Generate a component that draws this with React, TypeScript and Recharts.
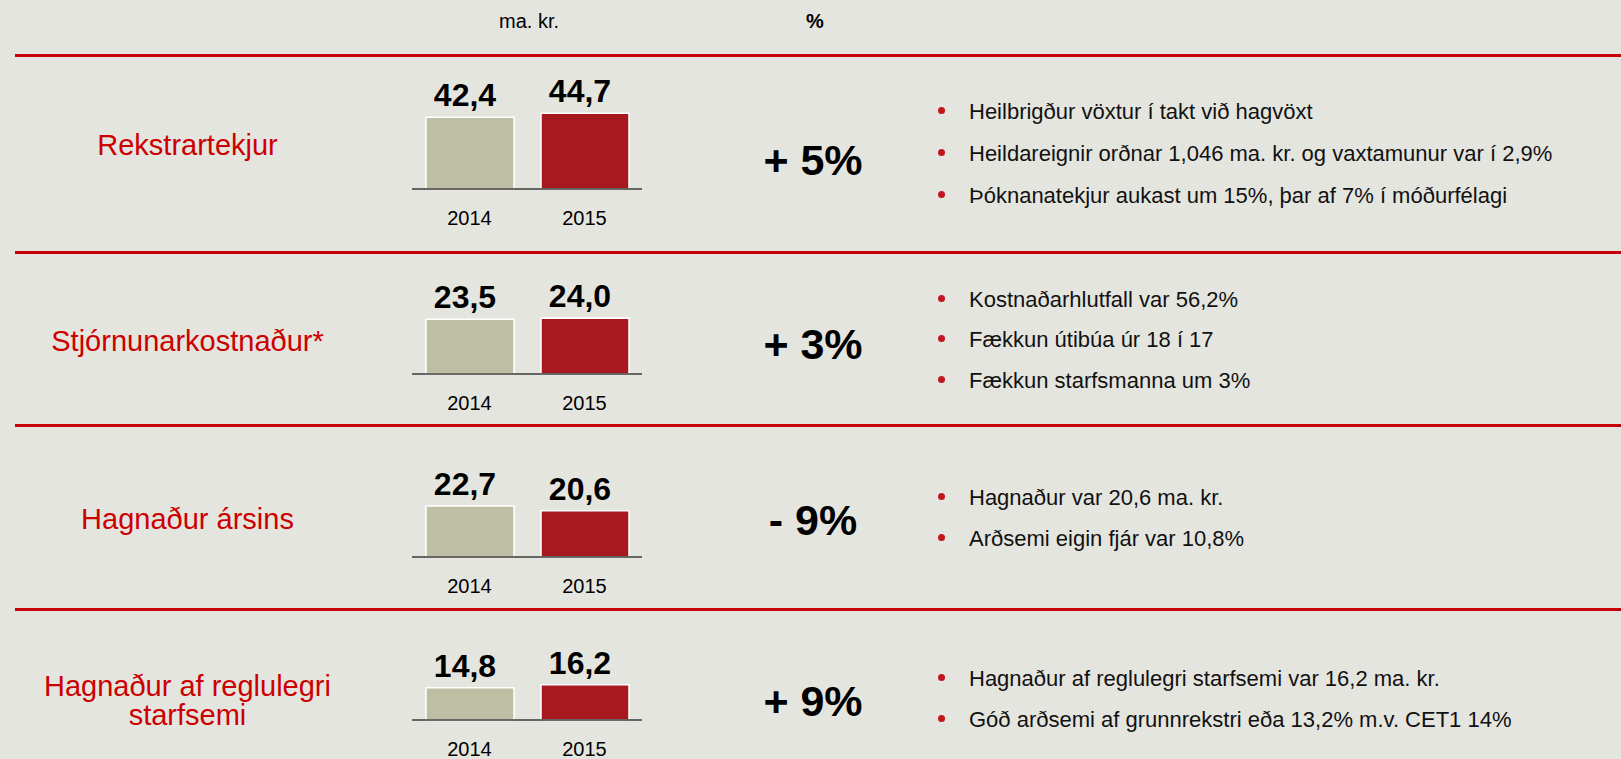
import { BarChart, Bar, XAxis, YAxis, Cell, LabelList } from 'recharts'

const years = ['2014', '2015']
const rekstrartekjur = [42.4, 44.7]
const stjornunarkostnadur = [23.5, 24.0]
const hagnadurArsins = [22.7, 20.6]
const hagnadurReglulegri = [14.8, 16.2]

const rowValues = [rekstrartekjur, stjornunarkostnadur, hagnadurArsins, hagnadurReglulegri]
const rowMax = [59, 43, 44.5, 46]

const titles = [
  ['Rekstrartekjur'],
  ['Stjórnunarkostnaður*'],
  ['Hagnaður ársins'],
  ['Hagnaður af reglulegri', 'starfsemi'],
]
const changes = ['+ 5%', '+ 3%', '- 9%', '+ 9%']
const bullets = [
  [
    'Heilbrigður vöxtur í takt við hagvöxt',
    'Heildareignir orðnar 1,046 ma. kr. og vaxtamunur var í 2,9%',
    'Þóknanatekjur aukast um 15%, þar af 7% í móðurfélagi',
  ],
  ['Kostnaðarhlutfall var 56,2%', 'Fækkun útibúa úr 18 í 17', 'Fækkun starfsmanna um 3%'],
  ['Hagnaður var 20,6 ma. kr.', 'Arðsemi eigin fjár var 10,8%'],
  ['Hagnaður af reglulegri starfsemi var 16,2 ma. kr.', 'Góð arðsemi af grunnrekstri eða 13,2% m.v. CET1 14%'],
]

const barColors = ['#bebea4', '#a7191f']
const red = '#c8000a'
const font = '"Liberation Sans", Arial, sans-serif'

// layout (px in the 1621x759 page)
const separators = [54, 251, 424, 608]
const baselines = [189, 374, 557, 720]
const titleY = [[145], [341], [519], [686, 715]]
const changeY = [160, 344, 520, 701]
const bulletY = [[112, 154, 196], [300, 340, 381], [498, 539], [679, 720]]

const fmt = (v: number) => v.toFixed(1).replace('.', ',')

function YearChart({ values, max, baseline }: { values: number[]; max: number; baseline: number }) {
  const data = years.map((year, i) => ({ year, value: values[i] }))
  return (
    <div style={{ position: 'absolute', left: 402, top: baseline - 140 }}>
      <BarChart width={250} height={180} data={data} margin={{ top: 40, right: 10, bottom: 0, left: 10 }}>
        <XAxis
          dataKey="year"
          axisLine={{ stroke: '#3a3a3a', strokeWidth: 1.5 }}
          tickLine={false}
          tickMargin={16}
          tick={{ fill: '#000', fontSize: 20 }}
          height={40}
        />
        <YAxis hide domain={[0, max]} />
        <Bar dataKey="value" barSize={88} stroke="#fff" strokeWidth={1.5} isAnimationActive={false}>
          {data.map((d, i) => (
            <Cell key={d.year} fill={barColors[i]} />
          ))}
          <LabelList
            dataKey="value"
            position="top"
            offset={11}
            dx={-5}
            formatter={(v: any) => fmt(Number(v))}
            fill="#000"
            fontSize={32}
            fontWeight="bold"
          />
        </Bar>
      </BarChart>
    </div>
  )
}

export default function App() {
  return (
    <div
      style={{
        position: 'absolute',
        left: 0,
        top: 0,
        width: 1621,
        height: 759,
        background: '#e5e5df',
        fontFamily: font,
        overflow: 'hidden',
      }}
    >
      <div style={{ position: 'absolute', left: 429, width: 200, top: 8, textAlign: 'center', fontSize: 20, lineHeight: '26px' }}>
        ma. kr.
      </div>
      <div style={{ position: 'absolute', left: 765, width: 100, top: 8, textAlign: 'center', fontSize: 20, fontWeight: 'bold', lineHeight: '26px' }}>
        %
      </div>

      {separators.map((y) => (
        <div key={y} style={{ position: 'absolute', left: 15, right: 0, top: y, height: 3, background: red }} />
      ))}

      {titles.map((lines, r) =>
        lines.map((t, j) => (
          <div
            key={t}
            style={{
              position: 'absolute',
              left: 0,
              width: 375,
              top: titleY[r][j] - 17,
              textAlign: 'center',
              fontSize: 29,
              lineHeight: '34px',
              color: '#cc0000',
            }}
          >
            {t}
          </div>
        ))
      )}

      {rowValues.map((vals, r) => (
        <YearChart key={r} values={vals} max={rowMax[r]} baseline={baselines[r]} />
      ))}

      {changes.map((c, r) => (
        <div
          key={r}
          style={{
            position: 'absolute',
            left: 713,
            width: 200,
            top: changeY[r] - 25,
            textAlign: 'center',
            fontSize: 43,
            fontWeight: 'bold',
            lineHeight: '50px',
            color: '#000',
          }}
        >
          {c}
        </div>
      ))}

      {bullets.map((items, r) =>
        items.map((b, j) => (
          <div key={b} style={{ position: 'absolute', left: 938, top: bulletY[r][j] - 13, height: 26, display: 'flex', alignItems: 'center' }}>
            <span style={{ width: 7, height: 7, borderRadius: '50%', background: '#c0161e', marginTop: -4 }} />
            <span style={{ marginLeft: 24, fontSize: 22, lineHeight: '26px', color: '#111', whiteSpace: 'nowrap' }}>{b}</span>
          </div>
        ))
      )}
    </div>
  )
}
